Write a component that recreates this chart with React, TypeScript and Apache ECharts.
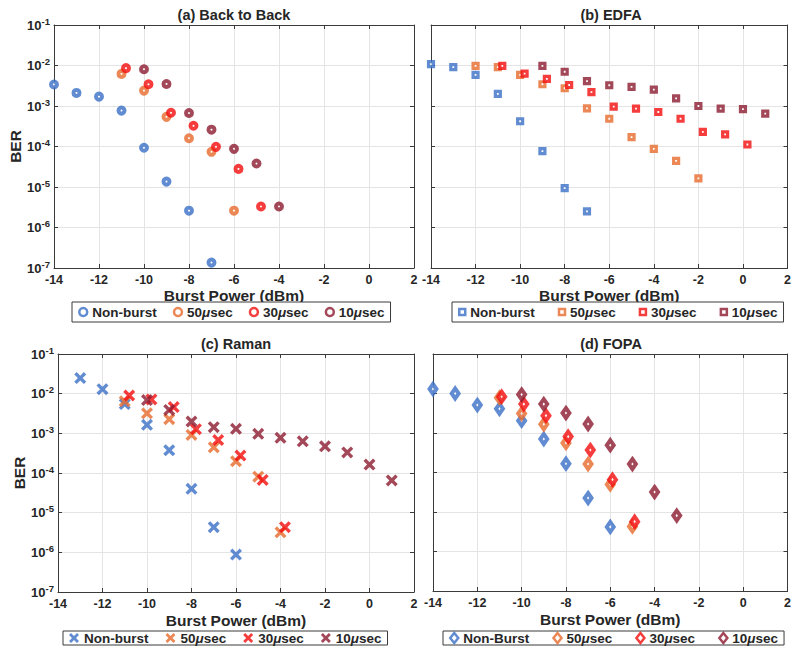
import React, { useEffect, useRef } from "react";
import * as echarts from "echarts";

// ---------- data ----------
// (a) Back to Back
const aNonBurstX = [-14, -13, -12, -11, -10, -9, -8, -7];
const aNonBurstY = [3.4e-3, 2.1e-3, 1.7e-3, 7.7e-4, 9.3e-5, 1.36e-5, 2.6e-6, 1.36e-7];
const a50X = [-11, -10, -9, -8, -7, -6];
const a50Y = [6.2e-3, 2.4e-3, 5.4e-4, 1.6e-4, 7.4e-5, 2.6e-6];
const a30X = [-10.8, -9.8, -8.8, -7.8, -6.8, -5.8, -4.8];
const a30Y = [8.6e-3, 3.44e-3, 6.8e-4, 3.25e-4, 9.8e-5, 2.8e-5, 3.3e-6];
const a10X = [-10, -9, -8, -7, -6, -5, -4];
const a10Y = [8.1e-3, 3.5e-3, 6.7e-4, 2.6e-4, 8.75e-5, 3.8e-5, 3.3e-6];

// (b) EDFA
const bNonBurstX = [-14, -13, -12, -11, -10, -9, -8, -7];
const bNonBurstY = [1.08e-2, 9.1e-3, 5.9e-3, 2.0e-3, 4.2e-4, 7.7e-5, 9.4e-6, 2.5e-6];
const b50X = [-12, -11, -10, -9, -8, -7, -6, -5, -4, -3, -2];
const b50Y = [9.8e-3, 9.1e-3, 5.9e-3, 3.44e-3, 2.74e-3, 8.75e-4, 4.85e-4, 1.7e-4, 8.75e-5, 4.4e-5, 1.64e-5];
const b30X = [-10.8, -9.8, -8.8, -7.8, -6.8, -5.8, -4.8, -3.8, -2.8, -1.8, -0.8, 0.2];
const b30Y = [9.8e-3, 6.3e-3, 4.7e-3, 3.3e-3, 2.2e-3, 9.6e-4, 8.6e-4, 7.1e-4, 4.85e-4, 2.3e-4, 2.0e-4, 1.12e-4];
const b10X = [-9, -8, -7, -6, -5, -4, -3, -2, -1, 0, 1];
const b10Y = [9.8e-3, 7.0e-3, 4.1e-3, 3.25e-3, 2.96e-3, 2.54e-3, 1.55e-3, 1.0e-3, 8.6e-4, 8.4e-4, 6.45e-4];

// (c) Raman
const cNonBurstX = [-13, -12, -11, -10, -9, -8, -7, -6];
const cNonBurstY = [2.47e-2, 1.3e-2, 5.45e-3, 1.64e-3, 3.75e-4, 4.0e-5, 4.3e-6, 8.8e-7];
const c50X = [-11, -10, -9, -8, -7, -6, -5, -4];
const c50Y = [6.4e-3, 3.2e-3, 2.28e-3, 9.1e-4, 4.45e-4, 1.98e-4, 8.1e-5, 3.2e-6];
const c30X = [-10.8, -9.8, -8.8, -7.8, -6.8, -5.8, -4.8, -3.8];
const c30Y = [9.0e-3, 7.15e-3, 4.6e-3, 1.27e-3, 6.8e-4, 2.75e-4, 6.7e-5, 4.3e-6];
const c10X = [-10, -9, -8, -7, -6, -5, -4, -3, -2, -1, 0, 1];
const c10Y = [6.9e-3, 3.9e-3, 1.99e-3, 1.43e-3, 1.3e-3, 9.7e-4, 7.7e-4, 6.3e-4, 4.7e-4, 3.3e-4, 1.63e-4, 6.5e-5];

// (d) FOPA
const dNonBurstX = [-14, -13, -12, -11, -10, -9, -8, -7, -6];
const dNonBurstY = [1.3e-2, 1.0e-2, 5.1e-3, 4.1e-3, 2.05e-3, 7.05e-4, 1.67e-4, 2.26e-5, 4.2e-6];
const d50X = [-11, -10, -9, -8, -7, -6, -5];
const d50Y = [7.85e-3, 3.1e-3, 1.66e-3, 5.6e-4, 1.64e-4, 5.0e-5, 4.3e-6];
const d30X = [-10.9, -9.9, -8.9, -7.9, -6.9, -5.9, -4.9];
const d30Y = [8.3e-3, 5.4e-3, 2.75e-3, 8.1e-4, 3.7e-4, 6.6e-5, 5.7e-6];
const d10X = [-10, -9, -8, -7, -6, -5, -4, -3];
const d10Y = [9.4e-3, 5.4e-3, 3.2e-3, 1.69e-3, 4.9e-4, 1.64e-4, 3.2e-5, 8.1e-6];

const panelTitles = ["(a) Back to Back", "(b) EDFA", "(c) Raman", "(d) FOPA"];
const seriesLabels = [
  ["Non-burst", "50μsec", "30μsec", "10μsec"],
  ["Non-burst", "50μsec", "30μsec", "10μsec"],
  ["Non-burst", "50μsec", "30μsec", "10μsec"],
  ["Non-Burst", "50μsec", "30μsec", "10μsec"],
];
const xTicksMin = -14;
const xTicksMax = 2;
const xTickStep = 2;
const yMin = 1e-7;
const yMax = 1e-1;
const xAxisName = "Burst Power (dBm)";
const yAxisName = "BER";

const panelData = [
  [[aNonBurstX, aNonBurstY], [a50X, a50Y], [a30X, a30Y], [a10X, a10Y]],
  [[bNonBurstX, bNonBurstY], [b50X, b50Y], [b30X, b30Y], [b10X, b10Y]],
  [[cNonBurstX, cNonBurstY], [c50X, c50Y], [c30X, c30Y], [c10X, c10Y]],
  [[dNonBurstX, dNonBurstY], [d50X, d50Y], [d30X, d30Y], [d10X, d10Y]],
];

// ---------- style ----------
const FONT = "'Liberation Sans', Arial, Helvetica, sans-serif";
const COLORS = ["#3a6fc6", "#e66a2c", "#f20d0d", "#8c1a30"];
const AXIS_COLOR = "#3a3a3a";
const TEXT_COLOR = "#262626";
const GRID_COLOR = "#e4e4e4";
const XPATH =
  "path://M2,0 L5,3 L8,0 L10,2 L7,5 L10,8 L8,10 L5,7 L2,10 L0,8 L3,5 L0,2 Z";

const grids = [
  { left: 54, top: 25, width: 360, height: 243 },
  { left: 431, top: 25, width: 360, height: 243 },
  { left: 58, top: 354, width: 356, height: 238 },
  { left: 433, top: 354, width: 357, height: 237 },
];
const titlePos = [
  { x: 234, y: 7 },
  { x: 611, y: 7 },
  { x: 236, y: 336 },
  { x: 611, y: 336 },
];
const legendPos = [
  { left: 72, top: 302, pad: [3, 6, 3, 6], gap: 16 },
  { left: 452, top: 302, pad: [3, 6, 3, 6], gap: 23 },
  { left: 63, top: 631, pad: [0, 6, 0, 6], gap: 17 },
  { left: 443, top: 631, pad: [0, 6, 0, 6], gap: 23 },
];

function markerStyle(panel: number, color: string) {
  if (panel === 0)
    return { symbol: "circle", symbolSize: 6, itemStyle: { color: "#fff", borderColor: color, borderWidth: 4 } };
  if (panel === 1)
    return { symbol: "rect", symbolSize: 5, itemStyle: { color: "#fff", borderColor: color, borderWidth: 3.2 } };
  if (panel === 2)
    return { symbol: XPATH, symbolSize: 12, itemStyle: { color, borderWidth: 0 } };
  return { symbol: "diamond", symbolSize: [7, 10], itemStyle: { color: "#fff", borderColor: color, borderWidth: 4 } };
}

function buildOption() {
  const grid: any[] = [];
  const xAxis: any[] = [];
  const yAxis: any[] = [];
  const series: any[] = [];
  const title: any[] = [];
  const legend: any[] = [];

  for (let p = 0; p < 4; p++) {
    grid.push({ ...grids[p], containLabel: false, show: false });
    const showYLabels = p === 0 || p === 2;
    const xNameGap = p < 2 ? 19 : 20;
    xAxis.push({
      gridIndex: p,
      type: "value",
      position: "bottom",
      min: xTicksMin,
      max: xTicksMax,
      interval: xTickStep,
      name: xAxisName,
      nameLocation: "middle",
      nameGap: xNameGap,
      nameTextStyle: { fontFamily: FONT, fontWeight: "bold", fontSize: 15.5, color: TEXT_COLOR },
      axisLine: { show: true, onZero: false, lineStyle: { color: AXIS_COLOR, width: 1 } },
      axisTick: { show: true, inside: true, length: 4, lineStyle: { color: AXIS_COLOR } },
      axisLabel: { show: true, margin: 5, fontFamily: FONT, fontWeight: "bold", fontSize: 12.5, color: TEXT_COLOR },
      splitLine: { show: true, lineStyle: { color: GRID_COLOR, width: 1 } },
    });
    xAxis.push({
      gridIndex: p,
      type: "value",
      position: "top",
      min: xTicksMin,
      max: xTicksMax,
      interval: xTickStep,
      axisLine: { show: true, onZero: false, lineStyle: { color: AXIS_COLOR, width: 1 } },
      axisTick: { show: true, inside: true, length: 4, lineStyle: { color: AXIS_COLOR } },
      axisLabel: { show: false },
      splitLine: { show: false },
    });
    yAxis.push({
      gridIndex: p,
      type: "log",
      logBase: 10,
      position: "left",
      min: yMin,
      max: yMax,
      splitNumber: 6,
      name: showYLabels ? yAxisName : "",
      nameLocation: "middle",
      nameGap: 28,
      nameTextStyle: { fontFamily: FONT, fontWeight: "bold", fontSize: 15.5, color: TEXT_COLOR },
      axisLine: { show: true, onZero: false, lineStyle: { color: AXIS_COLOR, width: 1 } },
      axisTick: { show: true, inside: true, length: 4, lineStyle: { color: AXIS_COLOR } },
      axisLabel: {
        show: showYLabels,
        margin: 4,
        formatter: (v: number) => `{b|10}{s|${Math.round(Math.log10(v))}}`,
        rich: {
          b: { fontFamily: FONT, fontWeight: "bold", fontSize: 13, color: TEXT_COLOR },
          s: { fontFamily: FONT, fontWeight: "bold", fontSize: 9.5, color: TEXT_COLOR, padding: [0, 0, 8, 0] },
        },
      },
      splitLine: { show: true, lineStyle: { color: GRID_COLOR, width: 1 } },
    });
    yAxis.push({
      gridIndex: p,
      type: "log",
      logBase: 10,
      position: "right",
      min: yMin,
      max: yMax,
      splitNumber: 6,
      axisLine: { show: true, onZero: false, lineStyle: { color: AXIS_COLOR, width: 1 } },
      axisTick: { show: true, inside: true, length: 4, lineStyle: { color: AXIS_COLOR } },
      axisLabel: { show: false },
      splitLine: { show: false },
    });

    title.push({
      text: panelTitles[p],
      left: titlePos[p].x,
      top: titlePos[p].y,
      textAlign: "center",
      padding: 0,
      textStyle: { fontFamily: FONT, fontWeight: "bold", fontSize: 14.5, color: TEXT_COLOR },
    });

    const names: string[] = [];
    for (let s = 0; s < 4; s++) {
      const [xs, ys] = panelData[p][s];
      const name = `${p}:${seriesLabels[p][s]}`;
      names.push(name);
      series.push({
        type: "scatter",
        name,
        xAxisIndex: 2 * p,
        yAxisIndex: 2 * p,
        data: (xs as number[]).map((x, i) => [x, (ys as number[])[i]]),
        ...markerStyle(p, COLORS[s]),
        z: 3 + s,
      });
    }

    const iconW = p === 1 ? 6 : p === 2 ? 10 : 8;
    const iconH = p === 1 ? 6 : p === 2 ? 10 : p === 3 ? 10 : 8;
    legend.push({
      data: names,
      orient: "horizontal",
      left: legendPos[p].left,
      top: legendPos[p].top,
      padding: legendPos[p].pad,
      itemGap: legendPos[p].gap,
      itemWidth: iconW,
      itemHeight: iconH,
      borderColor: AXIS_COLOR,
      borderWidth: 1,
      backgroundColor: "#fff",
      itemStyle: { borderWidth: p === 2 ? 0 : 2.5 },
      formatter: (n: string) => {
        const label = n.slice(n.indexOf(":") + 1);
        return label.replace("μ", "{m|μ}");
      },
      textStyle: {
        fontFamily: FONT,
        fontWeight: "bold",
        fontSize: 13.5,
        color: TEXT_COLOR,
        rich: {
          m: { fontFamily: FONT, fontWeight: "bold", fontStyle: "italic", fontSize: 13.5, color: TEXT_COLOR },
        },
      },
    });
  }

  return {
    animation: false,
    backgroundColor: "#ffffff",
    title,
    legend,
    grid,
    xAxis,
    yAxis,
    series,
  };
}

export default function App() {
  const ref = useRef<HTMLDivElement>(null);
  useEffect(() => {
    if (!ref.current) return;
    const chart = echarts.init(ref.current, undefined, { renderer: "svg" });
    chart.setOption(buildOption() as any);
    return () => chart.dispose();
  }, []);
  return (
    <div
      ref={ref}
      style={{ position: "absolute", left: 0, top: 0, width: 794, height: 648, background: "#fff" }}
    />
  );
}
